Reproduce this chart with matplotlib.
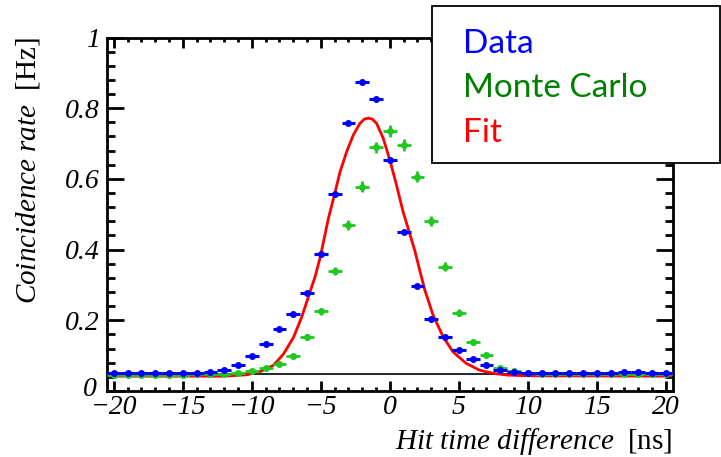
import numpy as np
import matplotlib
matplotlib.use("Agg")
import matplotlib.pyplot as plt
from matplotlib.patches import Rectangle
from matplotlib.ticker import MultipleLocator
from matplotlib.transforms import ScaledTranslation

plt.rcParams['mathtext.fontset'] = 'custom'
plt.rcParams['mathtext.rm'] = 'Liberation Serif'
plt.rcParams['mathtext.it'] = 'Liberation Serif:italic'

# ---------------- data ----------------
time_ns = list(range(-20, 21))

data_rate = [0.052, 0.052, 0.051, 0.051, 0.050, 0.050, 0.050, 0.054, 0.059, 0.074,
             0.100, 0.134, 0.174, 0.217, 0.277, 0.388, 0.558, 0.759, 0.873, 0.826,
             0.654, 0.451, 0.297, 0.204, 0.152, 0.116, 0.090, 0.073, 0.060, 0.055,
             0.052, 0.052, 0.051, 0.052, 0.052, 0.052, 0.052, 0.053, 0.053, 0.052,
             0.052]
data_err = [0.002] * 41

mc_rate = [0.046, 0.046, 0.046, 0.046, 0.046, 0.046, 0.047, 0.047, 0.049, 0.052,
           0.056, 0.066, 0.075, 0.100, 0.153, 0.226, 0.339, 0.470, 0.578, 0.689,
           0.735, 0.696, 0.606, 0.481, 0.352, 0.222, 0.138, 0.102, 0.064, 0.057,
           0.050, 0.048, 0.048, 0.048, 0.048, 0.048, 0.048, 0.048, 0.048, 0.048,
           0.048]
mc_err = [0.004, 0.004, 0.004, 0.004, 0.004, 0.004, 0.004, 0.004, 0.004, 0.004,
          0.005, 0.005, 0.005, 0.006, 0.008, 0.010, 0.012, 0.014, 0.015, 0.016,
          0.017, 0.016, 0.015, 0.014, 0.012, 0.010, 0.007, 0.006, 0.005, 0.005,
          0.004, 0.004, 0.004, 0.004, 0.004, 0.004, 0.004, 0.004, 0.004, 0.004,
          0.004]

fit_x = [-20.5, -12.0, -10.35, -9.39, -8.43, -7.70, -6.98, -6.38, -5.90, -5.42,
         -5.05, -4.81, -4.45, -3.99, -3.61, -3.13, -2.65, -2.17, -1.85, -1.56,
         -1.27, -0.96, -0.48, 0.0, 0.48, 0.96, 1.44, 1.81, 2.04, 2.53, 3.13,
         3.85, 4.57, 5.54, 6.50, 7.46, 8.54, 10.0, 20.5]
fit_y = [0.042, 0.042, 0.046, 0.055, 0.073, 0.105, 0.152, 0.210, 0.267, 0.323,
         0.378, 0.422, 0.489, 0.559, 0.620, 0.677, 0.724, 0.757, 0.769, 0.772,
         0.769, 0.757, 0.715, 0.653, 0.583, 0.507, 0.445, 0.397, 0.361, 0.286,
         0.215, 0.154, 0.111, 0.078, 0.059, 0.050, 0.045, 0.043, 0.042]

reference_level = 0.047

x_ticks = [-20, -15, -10, -5, 0, 5, 10, 15, 20]
x_ticklabels = ['\u221220', '\u221215', '\u221210', '\u22125', '0', '5', '10', '15', '20']
y_ticks = [0, 0.2, 0.4, 0.6, 0.8, 1.0]
y_ticklabels = ['0', '0.2', '0.4', '0.6', '0.8', '1']

legend_entries = ['Data', 'Monte Carlo', 'Fit']
legend_colors = ['#0000ff', '#008000', '#ff0000']

# ---------------- figure ----------------
W, H = 721, 457
fig = plt.figure(figsize=(W / 100, H / 100), dpi=100)
ax = fig.add_axes([107 / W, 1 - 391 / H, (672.7 - 107) / W, (391 - 37.5) / H])

ax.axhline(reference_level, color='black', lw=1.2, zorder=1)
ax.plot(fit_x, fit_y, color='#ff0000', lw=2.0, zorder=2)
ax.errorbar(time_ns, mc_rate, xerr=0.5, yerr=mc_err, fmt='o', color='#1ec81e',
            ms=4, elinewidth=2.0, capsize=0, zorder=3)
ax.errorbar(time_ns, data_rate, xerr=0.5, yerr=data_err, fmt='o', color='#0000ff',
            ms=4, elinewidth=2.2, capsize=0, zorder=4)

ax.set_xlim(-20.5, 20.5)
ax.set_ylim(0, 1)

for s in ax.spines.values():
    s.set_linewidth(2.0)

ax.set_xticks(x_ticks)
ax.set_xticklabels(x_ticklabels)
ax.set_yticks(y_ticks)
ax.set_yticklabels(y_ticklabels)
ax.xaxis.set_minor_locator(MultipleLocator(1))
ax.yaxis.set_minor_locator(MultipleLocator(0.04))

ax.tick_params(axis='both', which='both', direction='in', top=True, right=True, width=2.0)
ax.tick_params(axis='x', which='major', length=7.0, pad=3)
ax.tick_params(axis='x', which='minor', length=3.2)
ax.tick_params(axis='y', which='major', length=12.0, pad=5)
ax.tick_params(axis='y', which='minor', length=5.8)

for lab in ax.get_xticklabels() + ax.get_yticklabels():
    lab.set_fontfamily('Liberation Serif')
    lab.set_fontstyle('italic')
    lab.set_fontsize(20)

# nudge the y "0" label slightly so it does not collide with the x "-20" label
zero_lab = ax.yaxis.get_major_ticks()[0].label1
zero_lab.set_transform(zero_lab.get_transform() +
                       ScaledTranslation(-2 / 72, 3 / 72, fig.dpi_scale_trans))

ax.set_xlabel(r'$\mathit{Hit\ time\ difference}\ \ \mathrm{[ns]}$', fontsize=21,
              loc='right', labelpad=4)
ax.set_ylabel(r'$\mathit{Coincidence\ rate}\ \ \mathrm{[Hz]}$', fontsize=21,
              loc='top', labelpad=17)

# legend box (drawn on top of the frame)
fig.patches.append(Rectangle((431.7 / W, 1 - 162.7 / H), (720 - 431.7) / W,
                             (162.7 - 6) / H, transform=fig.transFigure,
                             facecolor='white', edgecolor='black', lw=1.3, zorder=10))
baselines = [53, 97, 142]
for txt, col, b in zip(legend_entries, legend_colors, baselines):
    fig.text(462.7 / W, 1 - b / H, txt, color=col, fontsize=24, family='Lato',
             ha='left', va='baseline', zorder=11)

fig.savefig('out.png', dpi=100)
